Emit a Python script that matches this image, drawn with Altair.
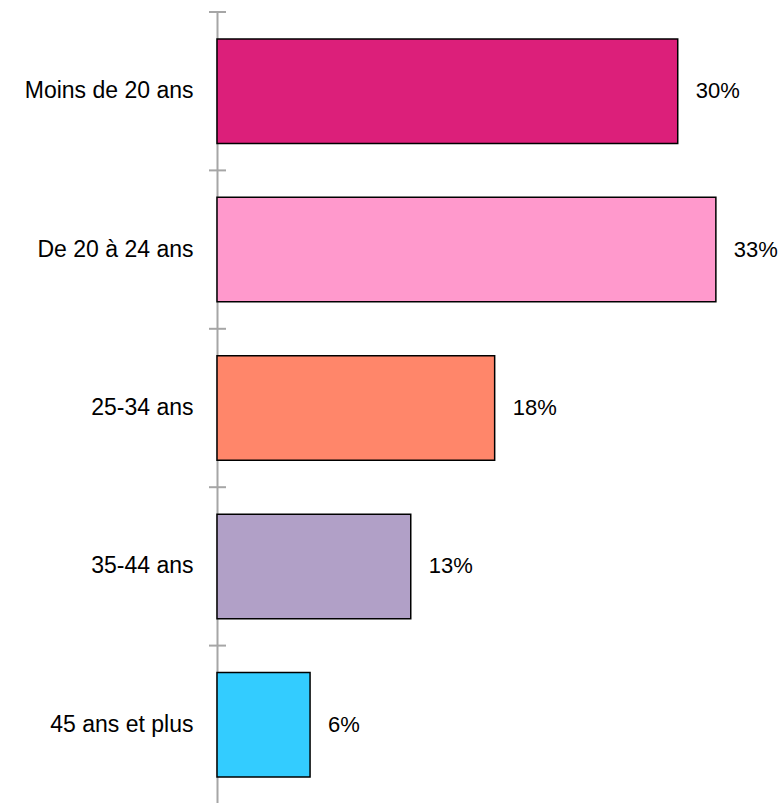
import altair as alt
import pandas as pd

categories = ["Moins de 20 ans", "De 20 à 24 ans", "25-34 ans", "35-44 ans", "45 ans et plus"]
values = [30.2, 32.7, 18.2, 12.7, 6.1]
labels = ["30%", "33%", "18%", "13%", "6%"]
colors = ["#DC1F7A", "#FF99CC", "#FF866A", "#B1A0C7", "#33CCFF"]

df = pd.DataFrame({"cat": categories, "val": values, "lab": labels, "col": colors})

FONT = "Liberation Sans"

y_enc = alt.Y("cat:N", sort=categories,
              scale=alt.Scale(paddingInner=0, paddingOuter=0),
              axis=alt.Axis(title=None, ticks=False, labelPadding=24, labelFont=FONT,
                            labelFontSize=23, labelColor="#000000", domainColor="#A6A6A6",
                            domainWidth=2, grid=False, labelLimit=300))
x_enc = alt.X("val:Q", scale=alt.Scale(domain=[0, 37.1], nice=False), axis=None)

base = alt.Chart(df)

bars = base.mark_bar(stroke="#000000", strokeWidth=1.5, height={"band": 0.66}).encode(
    y=y_enc, x=x_enc, color=alt.Color("col:N", scale=None))

text = base.mark_text(align="left", baseline="middle", dx=18, font=FONT, fontSize=22,
                      color="#000000").encode(
    y=alt.Y("cat:N", sort=categories), x=alt.X("val:Q", axis=None), text="lab:N")

ticks = base.mark_rule(color="#A6A6A6", strokeWidth=2).encode(
    y=alt.Y("cat:N", sort=categories, bandPosition=0),
    x=alt.value(-8), x2=alt.value(9))

chart = alt.layer(bars, text, ticks).properties(
    width=566, height=792,
    background="#FFFFFF",
    autosize=alt.AutoSizeParams(type="none"),
    padding={"left": 217, "top": 12, "right": 0, "bottom": 0},
).configure_view(stroke=None, strokeWidth=0)

chart.save("out.html", embed_options={"renderer": "svg", "actions": False})
